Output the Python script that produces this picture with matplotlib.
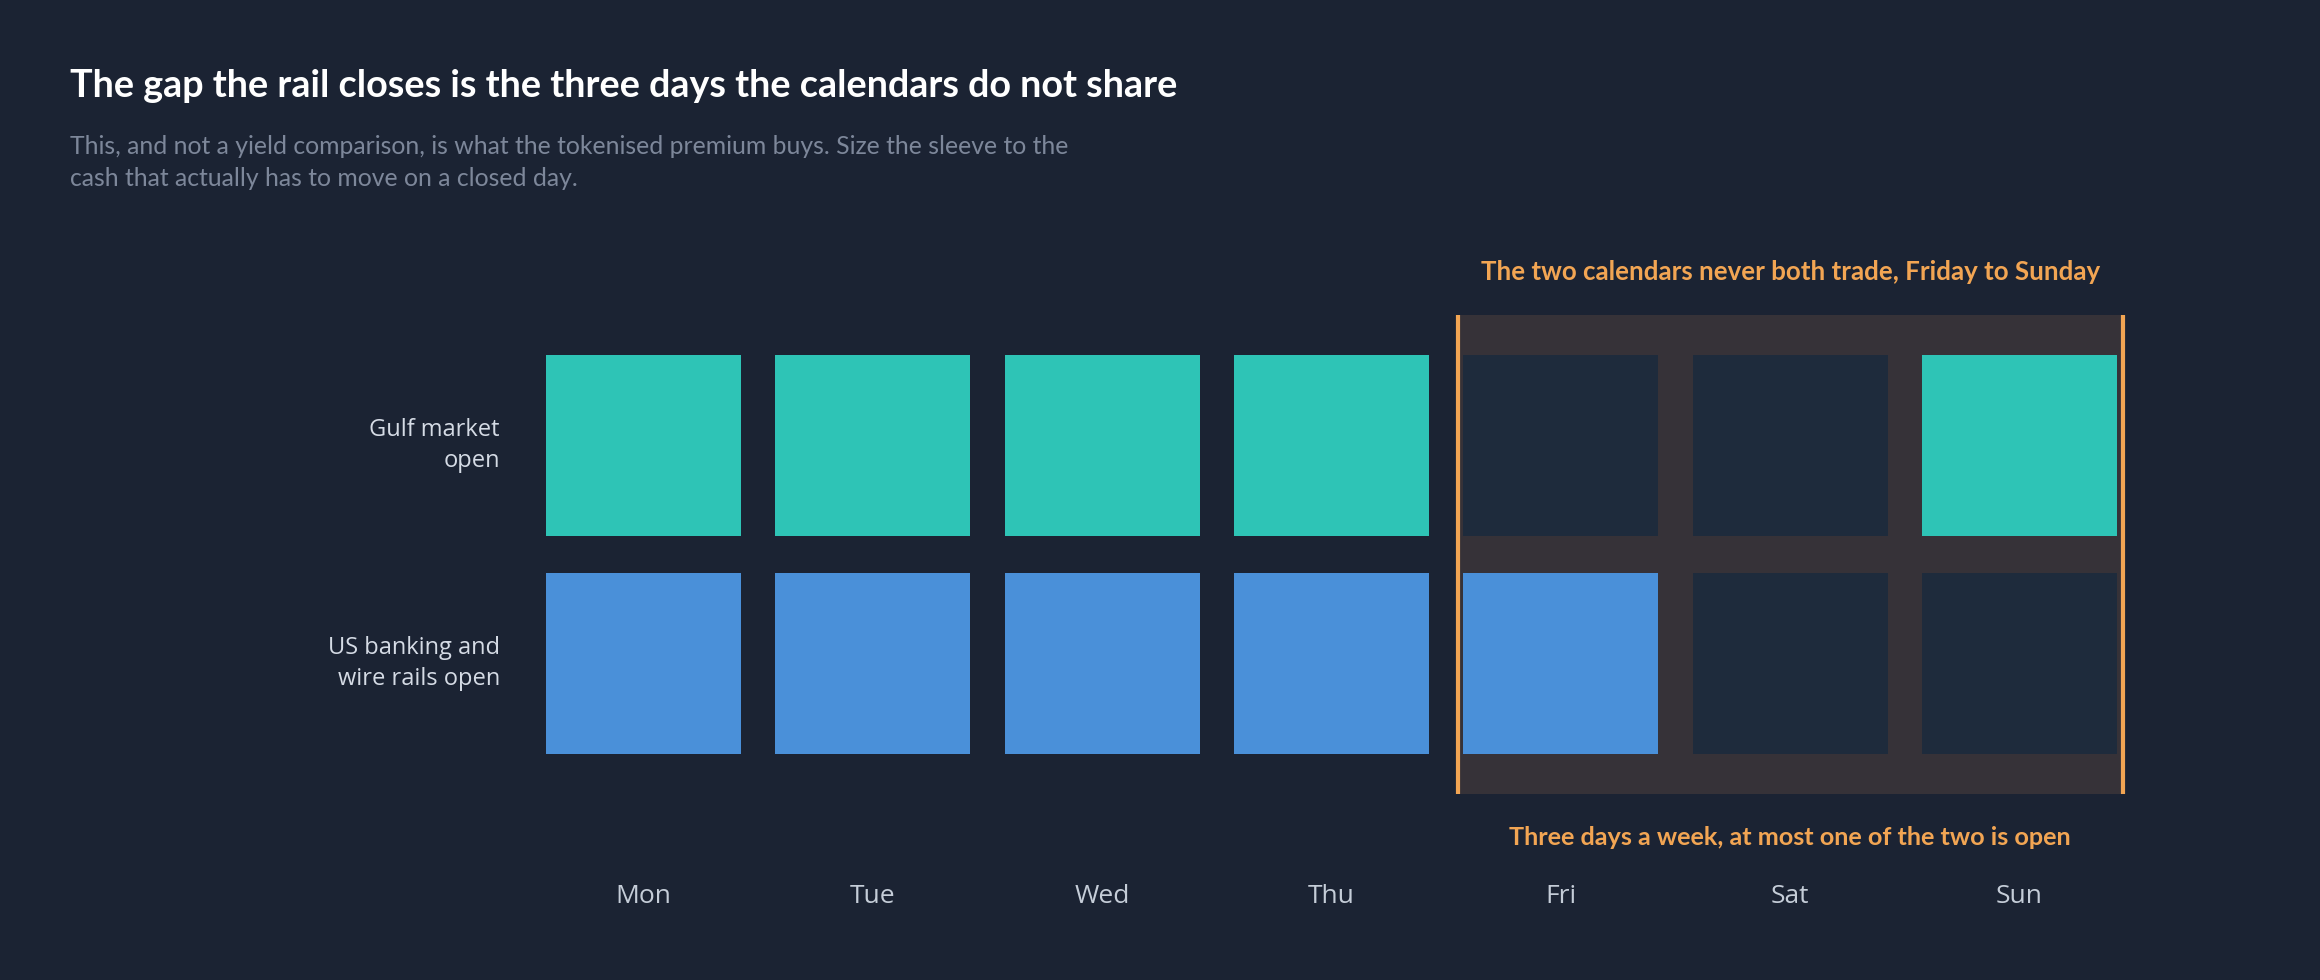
import numpy as np
import matplotlib
matplotlib.use("Agg")
import matplotlib.pyplot as plt
from matplotlib.patches import Rectangle

# --- data -------------------------------------------------------------
days = ["Mon", "Tue", "Wed", "Thu", "Fri", "Sat", "Sun"]
rows = ["Gulf market\nopen", "US banking and\nwire rails open"]
gulf_open = [1, 1, 1, 1, 0, 0, 1]
us_open = [1, 1, 1, 1, 1, 0, 0]
gap_days = ["Fri", "Sun"]   # first and last day of the unshared window

title = "The gap the rail closes is the three days the calendars do not share"
subtitle = ("This, and not a yield comparison, is what the tokenised premium buys. Size the sleeve to the\n"
            "cash that actually has to move on a closed day.")
note_top = "The two calendars never both trade, Friday to Sunday"
note_bottom = "Three days a week, at most one of the two is open"

# --- style ------------------------------------------------------------
BG, OFF, BOX = "#1b2333", "#1e2b3c", "#363238"
TEAL, BLUE, ORANGE = "#2ec4b6", "#4a90d9", "#f2a553"
W, H, DPI = 2320, 980, 100

fig = plt.figure(figsize=(W / DPI, H / DPI), dpi=DPI, facecolor=BG)
# axes placed so one day = 229 px and one row = 218 px
x0, x1 = 529, 2134
y0, y1 = 293, 816
ax = fig.add_axes([x0 / W, 1 - y1 / H, (x1 - x0) / W, (y1 - y0) / H])
ax.set_facecolor(BG)
ax.set_xlim(-0.5, 6.5)
ax.set_ylim(1.7, -0.7)
for s in ax.spines.values():
    s.set_visible(False)

cw, ch = 0.85, 0.83
# highlight window behind the cells
a, b = days.index(gap_days[0]), days.index(gap_days[1])
ax.add_patch(Rectangle((a - 0.45, -0.6), (b - a) + 0.9, 2.2, facecolor=BOX, edgecolor="none", zorder=1))
for xv in (a - 0.45, b + 0.45):
    ax.plot([xv, xv], [-0.6, 1.6], color=ORANGE, lw=3, solid_capstyle="butt", zorder=3)

for r, (vals, col) in enumerate([(gulf_open, TEAL), (us_open, BLUE)]):
    for i, v in enumerate(vals):
        ax.add_patch(Rectangle((i - cw / 2, r - ch / 2), cw, ch,
                               facecolor=col if v else OFF, edgecolor="none", zorder=2))

ax.set_yticks([0, 1], rows, fontsize=17, color="#d5dbe5", family="Open Sans", linespacing=1.4)
for lab in ax.get_yticklabels():
    lab.set_va("center")
ax.set_xticks([])
ax.tick_params(axis="y", length=0, pad=21)

for i, d in enumerate(days):
    ax.text(i, 2.07, d, ha="center", va="center", fontsize=19, color="#c5cdd8",
            family="Open Sans", clip_on=False)

mid = (a + b) / 2
ax.text(mid, -0.795, note_top, ha="center", va="center", fontsize=18.6, fontweight="bold",
        color=ORANGE, family="Lato", clip_on=False)
ax.text(mid, 1.797, note_bottom, ha="center", va="center", fontsize=18.2, fontweight="bold",
        color=ORANGE, family="Lato", clip_on=False)

fig.text(70 / W, 1 - 86 / H, title, ha="left", va="center", fontsize=27.2, fontweight="bold",
         color="white", family="Lato")
fig.text(70 / W, 1 - 135 / H, subtitle, ha="left", va="top", fontsize=17.8, color="#7d879a",
         family="Lato", linespacing=1.45)

fig.savefig("out.png", dpi=DPI, facecolor=BG)
